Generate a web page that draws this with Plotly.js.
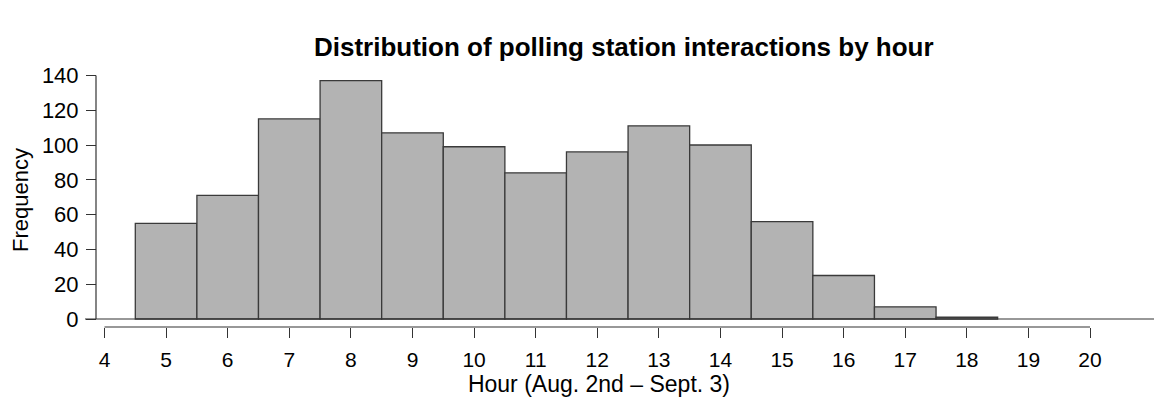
<!DOCTYPE html>
<html>
<head>
<meta charset="utf-8">
<script src="https://cdn.plot.ly/plotly-3.0.1.min.js"></script>
<style>html,body{margin:0;padding:0;background:#fff;}#chart{width:1154px;height:417px;}</style>
</head>
<body>
<div id="chart"></div>
<script>
// Data
var hours = [5, 6, 7, 8, 9, 10, 11, 12, 13, 14, 15, 16, 17, 18];
var frequency = [55, 71, 115, 137, 107, 99, 84, 96, 111, 100, 56, 25, 7, 1];
var xTickVals = [4, 5, 6, 7, 8, 9, 10, 11, 12, 13, 14, 15, 16, 17, 18, 19, 20];
var yTickVals = [0, 20, 40, 60, 80, 100, 120, 140];

var titleText = "Distribution of polling station interactions by hour";
var xTitle = "Hour (Aug. 2nd \u2013 Sept. 3)";
var yTitle = "Frequency";

var FONT = "Liberation Sans, Arial, Helvetica, sans-serif";
var AXC = "#333333";

var trace = {
  type: "bar",
  x: hours,
  y: frequency,
  width: 1,
  marker: { color: "#b3b3b3", line: { color: "#3a3a3a", width: 1.3 } },
  hoverinfo: "x+y"
};

var layout = {
  width: 1154,
  height: 417,
  margin: { l: 85, r: 0, t: 73, b: 90 },
  paper_bgcolor: "#ffffff",
  plot_bgcolor: "#ffffff",
  showlegend: false,
  bargap: 0,
  font: { family: FONT, size: 21, color: "#000" },
  title: {
    text: "<b>" + titleText + "</b>",
    font: { family: FONT, size: 26, color: "#000" },
    x: 0.504, xref: "paper", xanchor: "center",
    y: 1 - 47 / 417, yref: "container", yanchor: "middle"
  },
  xaxis: {
    domain: [0, 0.9616],
    range: [3.6834, 20.372],
    tickvals: xTickVals,
    ticktext: xTickVals.map(String),
    ticks: "outside", ticklen: 10, tickwidth: 1, tickcolor: AXC,
    ticklabelstandoff: 4,
    showline: false, showgrid: false, zeroline: false,
    tickfont: { family: FONT, size: 21, color: "#000" },
    title: { text: xTitle, font: { family: FONT, size: 23, color: "#000" }, standoff: 5 },
    automargin: false
  },
  yaxis: {
    range: [-4.6, 141.38],
    anchor: "free",
    position: 11 / 1069,
    tickvals: yTickVals,
    ticktext: yTickVals.map(String),
    ticks: "outside", ticklen: 10, tickwidth: 1, tickcolor: AXC,
    ticklabelstandoff: 3,
    showline: false, showgrid: false, zeroline: false,
    tickfont: { family: FONT, size: 22, color: "#000" },
    title: { text: yTitle, font: { family: FONT, size: 22, color: "#000" }, standoff: 6 },
    automargin: false
  },
  shapes: [
    { type: "line", xref: "paper", yref: "y", x0: 0, x1: 1, y0: 0, y1: 0,
      line: { color: AXC, width: 1.2 }, layer: "above" },
    { type: "line", xref: "x", yref: "paper", x0: 4, x1: 20, y0: 0, y1: 0,
      line: { color: AXC, width: 1.2 }, layer: "above" },
    { type: "line", xref: "paper", yref: "y", x0: 11 / 1069, x1: 11 / 1069, y0: 0, y1: 140,
      line: { color: AXC, width: 1.2 }, layer: "above" }
  ]
};

Plotly.newPlot("chart", [trace], layout, { displayModeBar: false, staticPlot: true });
</script>
</body>
</html>
